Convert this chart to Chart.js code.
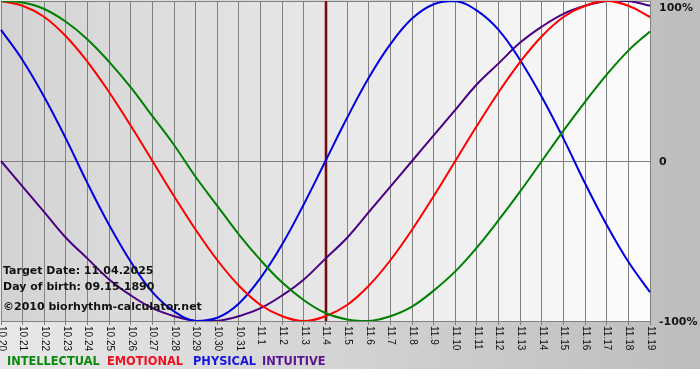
<!DOCTYPE html>
<html><head><meta charset="utf-8">
<script src="https://cdn.jsdelivr.net/npm/chart.js@4/dist/chart.umd.min.js"></script>
<style>html,body{margin:0;padding:0;background:#fff}#wrap{width:700px;height:380px;position:relative}canvas{display:block}</style>
</head><body><div id="wrap"><canvas id="c" width="700" height="380"></canvas></div>
<script>
const dates = ['10.20','10.21','10.22','10.23','10.24','10.25','10.26','10.27','10.28','10.29','10.30','10.31',
  '11.1','11.2','11.3','11.4','11.5','11.6','11.7','11.8','11.9','11.10','11.11','11.12','11.13','11.14','11.15',
  '11.16','11.17','11.18','11.19'];
const intellectual = [100,99,95,87,76,62,46,28,10,-10,-28,-46,-62,-76,-87,-95,-99,-100,-97,-91,-81,-69,-54,-37,-19,0,19,37,54,69,81];
const emotional = [100,97,90,78,62,43,22,0,-22,-43,-62,-78,-90,-97,-100,-97,-90,-78,-62,-43,-22,0,22,43,62,78,90,97,100,97,90];
const physical = [82,63,40,14,-14,-40,-63,-82,-94,-100,-98,-89,-73,-52,-27,0,27,52,73,89,98,100,94,82,63,40,14,-14,-40,-63,-82];
const intuitive = [0,-16,-32,-48,-61,-74,-84,-92,-97,-100,-100,-97,-92,-84,-74,-61,-48,-32,-16,0,16,32,48,61,74,84,92,97,100,100,97];
const yTickValues = [100, 0, -100];
const yTickLabels = ['100%', '0', '-100%'];
const seriesNames = ['INTELLECTUAL', 'EMOTIONAL', 'PHYSICAL', 'INTUITIVE'];
const targetDate = '11.4';
const infoLines = ['Target Date: 11.04.2025', 'Day of birth: 09.15.1890', '\u00A92010 biorhythm-calculator.net'];

const colors = ['#008000', '#ff0000', '#0000e0', '#4b0082'];
const legendColors = ['#0a8a0a', '#ee1122', '#1515dd', '#5a1590'];
const legendX = [7, 107, 193, 262];

const decorPlugin = {
  id: 'decor',
  beforeDraw(chart) {
    const ctx = chart.ctx, a = chart.chartArea;
    ctx.save();
    ctx.fillStyle = '#ffffff';
    ctx.fillRect(0, 0, chart.width, chart.height);
    const g = ctx.createLinearGradient(0, 0, chart.width, 0);
    g.addColorStop(0, '#e8e8e8');
    g.addColorStop(1, '#bdbdbd');
    ctx.fillStyle = g;
    ctx.fillRect(0, 0, chart.width, 369);
    const g2 = ctx.createLinearGradient(a.left, 0, a.right, 0);
    g2.addColorStop(0, '#d3d3d3');
    g2.addColorStop(1, '#fcfcfc');
    ctx.fillStyle = g2;
    ctx.fillRect(a.left, a.top, a.right - a.left, a.bottom - a.top);
    ctx.restore();
  },
  beforeDatasetsDraw(chart) {
    const ctx = chart.ctx, a = chart.chartArea, xs = chart.scales.x;
    const x = Math.round(xs.getPixelForValue(dates.indexOf(targetDate)));
    ctx.save();
    ctx.strokeStyle = '#c06060';
    ctx.lineWidth = 3;
    ctx.beginPath(); ctx.moveTo(x, a.top); ctx.lineTo(x, a.bottom); ctx.stroke();
    ctx.strokeStyle = '#6a1010';
    ctx.lineWidth = 2;
    ctx.beginPath(); ctx.moveTo(x, a.top); ctx.lineTo(x, a.bottom); ctx.stroke();
    ctx.restore();
  },
  afterDraw(chart) {
    const ctx = chart.ctx, a = chart.chartArea, xs = chart.scales.x, ys = chart.scales.y;
    ctx.save();
    // x labels, rotated clockwise
    ctx.font = '10px "Liberation Sans", Arial, sans-serif';
    ctx.fillStyle = '#111111';
    ctx.textAlign = 'left';
    ctx.textBaseline = 'middle';
    dates.forEach((d, i) => {
      const x = xs.getPixelForValue(i);
      ctx.save();
      ctx.translate(x + 0.5, a.bottom + 5);
      ctx.rotate(Math.PI / 2);
      ctx.fillText(d, 0, 0);
      ctx.restore();
    });
    // y labels
    ctx.font = 'bold 11px "DejaVu Sans", Verdana, sans-serif';
    ctx.fillStyle = '#151515';
    yTickValues.forEach((v, i) => {
      const y = Math.max(ys.getPixelForValue(v) + 1.5, 8);
      ctx.fillText(yTickLabels[i], a.right + 9, y);
    });
    // info text
    ctx.fillStyle = '#111111';
    ctx.fillText(infoLines[0], 3, 271);
    ctx.fillText(infoLines[1], 3, 287.5);
    ctx.fillText(infoLines[2], 3, 307);
    // legend
    ctx.font = 'bold 11.4px "DejaVu Sans", Verdana, sans-serif';
    seriesNames.forEach((n, i) => {
      ctx.fillStyle = legendColors[i];
      ctx.fillText(n, legendX[i], 362);
    });
    ctx.restore();
  }
};

const seriesData = [intellectual, emotional, physical, intuitive];
new Chart(document.getElementById('c'), {
  type: 'line',
  data: {
    labels: dates,
    datasets: seriesNames.map((n, i) => ({
      label: n,
      data: seriesData[i],
      borderColor: colors[i],
      borderWidth: 2,
      pointRadius: 0,
      tension: 0.4,
      fill: false
    }))
  },
  options: {
    responsive: false,
    devicePixelRatio: 1,
    animation: false,
    layout: { padding: { left: 1, right: 50, top: 1, bottom: 55 } },
    plugins: { legend: { display: false }, tooltip: { enabled: false } },
    scales: {
      x: {
        type: 'category',
        offset: false,
        grid: { color: '#808080', lineWidth: 1, drawTicks: true, tickLength: 4, offset: false },
        ticks: { display: false, autoSkip: false },
        border: { display: true, color: '#808080' }
      },
      y: {
        position: 'right',
        min: -100, max: 100,
        ticks: { display: false, stepSize: 100 },
        grid: { color: '#808080', lineWidth: 1, drawTicks: false },
        border: { display: true, color: '#808080' }
      }
    }
  },
  plugins: [decorPlugin]
});
</script>
</body></html>
